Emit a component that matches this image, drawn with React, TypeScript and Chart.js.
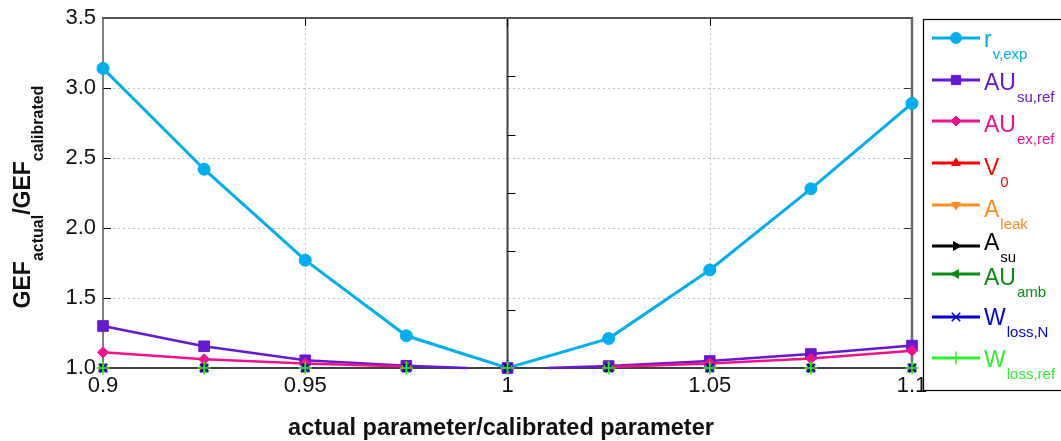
import React, { useEffect, useRef } from "react";
import { Chart, registerables } from "chart.js";
import { drawPoint } from "chart.js/helpers";

Chart.register(...registerables);

// ---------- data ----------
const xValues = [0.9, 0.925, 0.95, 0.975, 1.0, 1.025, 1.05, 1.075, 1.1];
const rvExp = [3.14, 2.42, 1.77, 1.23, 1.0, 1.21, 1.7, 2.28, 2.89];
const auSuX = [0.9, 0.925, 0.95, 0.975, 0.99, 1.0, 1.01, 1.025, 1.05, 1.075, 1.1];
const auSuRef = [1.3, 1.155, 1.055, 1.016, 1.0, 1.0, 1.0, 1.014, 1.05, 1.1, 1.16];
const auExRef = [1.112, 1.062, 1.033, 1.01, 1.0, 1.008, 1.033, 1.067, 1.124];
const v0 = [1, 1, 1, 1, 1, 1, 1, 1, 1];
const aLeak = [1, 1, 1, 1, 1, 1, 1, 1, 1];
const aSu = [1, 1, 1, 1, 1, 1, 1, 1, 1];
const auAmb = [1, 1, 1, 1, 1, 1, 1, 1, 1];
const wLossN = [1, 1, 1, 1, 1, 1, 1, 1, 1];
const wLossRef = [1, 1, 1, 1, 1, 1, 1, 1, 1];

const xTicks = [0.9, 0.95, 1.0, 1.05, 1.1];
const xTickLabels = ["0.9", "0.95", "1", "1.05", "1.1"];
const yTicks = [1.0, 1.5, 2.0, 2.5, 3.0, 3.5];
const yTickLabels = ["1.0", "1.5", "2.0", "2.5", "3.0", "3.5"];
const xGrid = [0.95, 1.05];
const yGrid = [1.5, 2.0, 2.5, 3.0];

const legendMain = ["r", "AU", "AU", "V", "A", "A", "AU", "W", "W"];
const legendSub = ["v,exp", "su,ref", "ex,ref", "0", "leak", "su", "amb", "loss,N", "loss,ref"];

const xTitle = "actual parameter/calibrated parameter";

const FONT = "'Liberation Sans', Arial, Helvetica, sans-serif";

const C_CYAN = "#00aeef";
const C_PURPLE = "#6619d0";
const C_PINK = "#f0128c";
const C_RED = "#ff0000";
const C_ORANGE = "#ff8c1f";
const C_BLACK = "#000000";
const C_DGREEN = "#0a8a14";
const C_BLUE = "#0000d8";
const C_LGREEN = "#2ef02e";

const pts = (xs: number[], ys: number[]) => xs.map((x, i) => ({ x, y: ys[i] }));

const gapSeg = (ctx: any) =>
  ctx.p0.parsed.x >= 0.985 && ctx.p1.parsed.x <= 1.015 ? "rgba(0,0,0,0)" : undefined;
const gapSegPink = (ctx: any) =>
  (ctx.p0.parsed.x > 0.98 && ctx.p0.parsed.x < 1.02) || (ctx.p1.parsed.x > 0.98 && ctx.p1.parsed.x < 1.02)
    ? "rgba(0,0,0,0)"
    : undefined;

function flatSet(label: string, data: number[], color: string, style: string, rotation: number, radius: number, bw: number) {
  return {
    label,
    data: pts(xValues, data),
    borderColor: color,
    backgroundColor: color,
    showLine: false,
    pointStyle: style,
    pointRotation: rotation,
    pointRadius: radius,
    pointBorderWidth: bw,
    clip: false as any,
    legendLine: 3,
    legendRadius: radius,
  };
}

const framePlugin = {
  id: "framePlugin",
  beforeDatasetsDraw(chart: any) {
    const { ctx, chartArea: a, scales } = chart;
    const x = scales.x;
    const y = scales.y;
    ctx.save();
    const line = (x1: number, y1: number, x2: number, y2: number) => {
      ctx.beginPath();
      ctx.moveTo(x1, y1);
      ctx.lineTo(x2, y2);
      ctx.stroke();
    };
    // dotted grid
    ctx.strokeStyle = "#c2c2c2";
    ctx.lineWidth = 1;
    ctx.setLineDash([2, 3]);
    for (const v of xGrid) {
      const px = Math.round(x.getPixelForValue(v)) + 0.5;
      line(px, a.top, px, a.bottom);
    }
    for (const v of yGrid) {
      const py = Math.round(y.getPixelForValue(v)) + 0.5;
      line(a.left, py, a.right, py);
    }
    ctx.setLineDash([]);
    // middle axis at x = 1
    const mx = x.getPixelForValue(1.0);
    ctx.strokeStyle = "#404040";
    ctx.lineWidth = 2;
    line(mx, a.top, mx, a.bottom);
    ctx.strokeStyle = "#000";
    ctx.lineWidth = 1;
    for (let k = 1; k < 6; k++) {
      const yy = Math.round(a.top + ((a.bottom - a.top) * k) / 6) + 0.5;
      line(mx, yy, mx + 8, yy);
    }
    // left ticks (inward)
    for (const v of yTicks) {
      if (v === yTicks[0]) continue;
      const py = Math.round(y.getPixelForValue(v)) + 0.5;
      line(a.left, py, a.left + 8, py);
    }
    // right ticks (inward)
    ctx.strokeStyle = "#333";
    for (const v of yTicks) {
      if (v === yTicks[0]) continue;
      const py = Math.round(y.getPixelForValue(v)) + 0.5;
      line(a.right, py, a.right - 8, py);
    }
    // top/bottom ticks
    ctx.strokeStyle = "#000";
    for (const v of [0.95, 1.0, 1.05]) {
      const px = Math.round(x.getPixelForValue(v)) + 0.5;
      line(px, a.top, px, a.top + 8);
      line(px, a.bottom, px, a.bottom - 8);
    }
    // frame
    ctx.strokeStyle = "#555";
    ctx.lineWidth = 2;
    line(a.left - 1, a.top, a.right + 1, a.top);
    ctx.lineWidth = 1.5;
    line(a.left, a.top, a.left, a.bottom);
    ctx.strokeStyle = "#6a6a6a";
    ctx.lineWidth = 2.5;
    line(a.right, a.top, a.right, a.bottom);
    ctx.strokeStyle = "#000";
    ctx.lineWidth = 1.5;
    line(a.left, a.bottom, a.right, a.bottom);
    ctx.restore();
  },
  afterDraw(chart: any) {
    const { ctx, chartArea: a } = chart;
    ctx.save();
    // x title
    ctx.fillStyle = "#111";
    ctx.font = `bold 23.5px ${FONT}`;
    ctx.textAlign = "center";
    ctx.textBaseline = "middle";
    ctx.fillText(xTitle, 501, 429);

    // y title (rotated, with subscripts)
    const parts: [string, boolean][] = [
      ["GEF", false],
      ["actual", true],
      ["/", false],
      ["GEF", false],
      ["calibrated", true],
    ];
    const mainF = `bold 23px ${FONT}`;
    const subF = `bold 16px ${FONT}`;
    let total = 0;
    const widths = parts.map(([t, s]) => {
      ctx.font = s ? subF : mainF;
      const w = ctx.measureText(t).width;
      total += w;
      return w;
    });
    ctx.translate(30, (a.top + a.bottom) / 2 + 4);
    ctx.rotate(-Math.PI / 2);
    ctx.textAlign = "left";
    ctx.textBaseline = "alphabetic";
    let u = -total / 2;
    parts.forEach(([t, s], i) => {
      ctx.font = s ? subF : mainF;
      ctx.fillText(t, u, s ? 13 : 0);
      u += widths[i];
    });
    ctx.setTransform(1, 0, 0, 1, 0, 0);

    // legend
    const bx = 923.5;
    const by = 19.5;
    const bw = chart.width - bx + 10;
    const bh = 371;
    ctx.fillStyle = "#fff";
    ctx.fillRect(bx, by, bw, bh);
    ctx.strokeStyle = "#000";
    ctx.lineWidth = 1.2;
    ctx.strokeRect(bx, by, bw, bh);
    const rows = [38, 80, 121, 163, 205, 246, 274, 317, 358];
    const baselines = [47, 90, 132, 175, 217, 250, 285, 325, 367];
    chart.data.datasets.forEach((ds: any, i: number) => {
      const ly = rows[i];
      ctx.strokeStyle = ds.borderColor;
      ctx.fillStyle = ds.backgroundColor;
      ctx.lineWidth = ds.legendLine;
      ctx.beginPath();
      ctx.moveTo(932, ly);
      ctx.lineTo(980, ly);
      ctx.stroke();
      ctx.lineWidth = ds.pointBorderWidth;
      drawPoint(ctx, {
        pointStyle: ds.pointStyle,
        rotation: ds.pointRotation || 0,
        radius: ds.legendRadius,
        borderWidth: ds.pointBorderWidth,
      } as any, 956, ly);
      ctx.fillStyle = ds.borderColor;
      ctx.font = `23px ${FONT}`;
      ctx.textAlign = "left";
      ctx.textBaseline = "alphabetic";
      const bl = baselines[i];
      ctx.fillText(legendMain[i], 984, bl);
      const mw = ctx.measureText(legendMain[i]).width;
      ctx.font = `15px ${FONT}`;
      ctx.fillText(legendSub[i], 984 + mw + 1, bl + 12);
    });
    ctx.restore();
  },
};

export default function App() {
  const ref = useRef<HTMLCanvasElement | null>(null);
  useEffect(() => {
    document.body.style.margin = "0";
    const canvas = ref.current;
    if (!canvas) return;
    Chart.defaults.font.family = FONT;
    const datasets: any[] = [
      {
        label: "r_v,exp",
        data: pts(xValues, rvExp),
        borderColor: C_CYAN,
        backgroundColor: C_CYAN,
        borderWidth: 3,
        pointStyle: "circle",
        pointRadius: 6,
        pointBorderWidth: 1,
        clip: false,
        legendLine: 3,
        legendRadius: 5.5,
      },
      {
        label: "AU_su,ref",
        data: pts(auSuX, auSuRef),
        borderColor: C_PURPLE,
        backgroundColor: C_PURPLE,
        borderWidth: 2.5,
        pointStyle: "rect",
        pointRadius: [7.5, 7.5, 7.5, 7.5, 0, 7.5, 0, 7.5, 7.5, 7.5, 7.5],
        pointBorderWidth: 1,
        segment: { borderColor: gapSeg },
        clip: false,
        legendLine: 3,
        legendRadius: 6.5,
      },
      {
        label: "AU_ex,ref",
        data: pts(xValues, auExRef),
        borderColor: C_PINK,
        backgroundColor: C_PINK,
        borderWidth: 2.5,
        pointStyle: "rectRot",
        pointRadius: 5.5,
        pointBorderWidth: 1,
        segment: { borderColor: gapSegPink },
        clip: false,
        legendLine: 3,
        legendRadius: 5,
      },
      flatSet("V_0", v0, C_RED, "triangle", 0, 5, 1),
      flatSet("A_leak", aLeak, C_ORANGE, "triangle", 180, 5, 1),
      flatSet("A_su", aSu, C_BLACK, "triangle", 90, 5, 1),
      flatSet("AU_amb", auAmb, C_DGREEN, "triangle", -90, 5, 1),
      flatSet("W_loss,N", wLossN, C_BLUE, "crossRot", 0, 6, 1.5),
      flatSet("W_loss,ref", wLossRef, C_LGREEN, "cross", 0, 6.5, 1.5),
    ];
    const n = datasets.length;
    datasets.forEach((d, i) => (d.order = n - i));

    const chart = new Chart(canvas, {
      type: "line",
      data: { datasets },
      options: {
        animation: false,
        responsive: false,
        maintainAspectRatio: false,
        layout: { padding: { left: 0, right: 149, top: 18, bottom: 0 } },
        plugins: { legend: { display: false }, tooltip: { enabled: false }, title: { display: false } },
        elements: { line: { tension: 0 } },
        scales: {
          x: {
            type: "linear",
            min: 0.9,
            max: 1.1,
            grid: { display: false, drawTicks: false },
            border: { display: false },
            afterBuildTicks: (s: any) => {
              s.ticks = xTicks.map((v) => ({ value: v }));
            },
            afterFit: (s: any) => {
              s.height = 73;
              s.paddingLeft = 0;
              s.paddingRight = 0;
            },
            ticks: {
              autoSkip: false,
              maxRotation: 0,
              padding: 5,
              color: "#111",
              font: { size: 22, family: FONT },
              callback: (v: any) => {
                const i = xTicks.findIndex((t) => Math.abs(t - Number(v)) < 1e-9);
                return i >= 0 ? xTickLabels[i] : "";
              },
            },
          },
          y: {
            type: "linear",
            min: 1.0,
            max: 3.5,
            grid: { display: false, drawTicks: false },
            border: { display: false },
            afterBuildTicks: (s: any) => {
              s.ticks = yTicks.map((v) => ({ value: v }));
            },
            afterFit: (s: any) => {
              s.width = 103;
              s.paddingTop = 0;
              s.paddingBottom = 0;
            },
            ticks: {
              padding: 7,
              color: "#111",
              font: { size: 22, family: FONT },
              callback: (v: any) => {
                const i = yTicks.findIndex((t) => Math.abs(t - Number(v)) < 1e-9);
                return i >= 0 ? yTickLabels[i] : "";
              },
            },
          },
        },
      },
      plugins: [framePlugin],
    } as any);
    return () => chart.destroy();
  }, []);
  return (
    <div style={{ width: 1061, height: 441 }}>
      <canvas ref={ref} width={1061} height={441} style={{ display: "block" }} />
    </div>
  );
}
